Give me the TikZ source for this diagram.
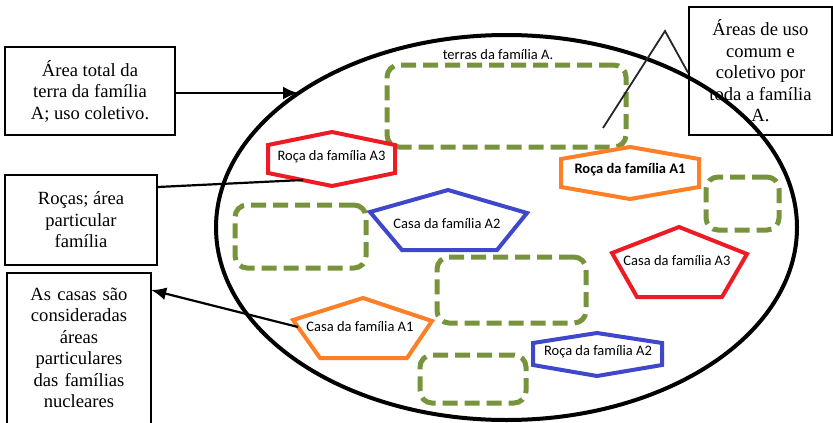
\documentclass[tikz,border=0pt]{standalone}
\usepackage{fontspec}
\setmainfont{Liberation Serif}
\newfontfamily\timesfont{Liberation Serif}
\newfontfamily\calibri{Carlito}
\usetikzlibrary{arrows.meta,shapes.geometric}
\definecolor{olivegreen}{HTML}{77933C}
\definecolor{pred}{HTML}{ED1C24}
\definecolor{porange}{HTML}{FF7F27}
\definecolor{pblue}{HTML}{3F48CC}
\definecolor{calloutgray}{HTML}{262626}
\begin{document}
\begin{tikzpicture}[x=1pt,y=-1pt,
  note/.style={font=\timesfont\fontsize{18.6}{21.5}\selectfont, align=center, inner sep=0pt},
  frame/.style={draw=black, line width=1.6pt},
  lbl/.style={font=\calibri\fontsize{14.5}{16}\selectfont, inner sep=0pt, text=black},
  commonarea/.style={draw=olivegreen, line width=5pt, dash pattern=on 15pt off 7pt, rounded corners=12pt, inner sep=0pt},
  plot/.style={line width=4pt, line join=miter},
  lead/.style={draw=black, line width=2.2pt},
  tip/.style={-{Latex[length=15pt,width=13pt]}},
  callout/.style={draw=calloutgray, line width=1.8pt, line join=miter}
]
\useasboundingbox (0,0) rectangle (833,423);
\clip (0,0) rectangle (833,423);

% the land (ellipse)
\node[draw=black, ellipse, line width=4pt, minimum width=581, minimum height=385, inner sep=0pt] (land) at (506.5,227.5) {};
\node[lbl] (landlabel) at (498,55) {terras da família A.};

% common-use areas
\node[commonarea, minimum width=239, minimum height=82] (c1) at (506.5,106) {};
\node[commonarea, minimum width=131, minimum height=63] (c2) at (300.5,236.5) {};
\node[commonarea, minimum width=149, minimum height=66] (c3) at (511.5,290) {};
\node[commonarea, minimum width=106, minimum height=48] (c4) at (473,379) {};
\node[commonarea, minimum width=73, minimum height=53] (c5) at (742.5,203.5) {};

% rocas (hexagons)
\draw[plot, draw=pred] (268,145) -- (332,132) -- (395,145) -- (395,173) -- (332,186) -- (268,173) -- cycle;
\node[lbl] (r3) at (331.5,157) {Roça da família A3};
\draw[plot, draw=porange] (561,159) -- (630,147) -- (699,159) -- (699,187) -- (630,199) -- (561,187) -- cycle;
\node[lbl, font=\calibri\bfseries\fontsize{14.5}{16}\selectfont] (r1) at (630,170) {Roça da família A1};
\draw[plot, draw=pblue] (533,343) -- (597,333) -- (662,343) -- (662,365) -- (597,376) -- (533,365) -- cycle;
\node[lbl] (r2) at (598,352) {Roça da família A2};

% casas (pentagons)
\draw[plot, draw=pblue] (448,190) -- (527,213) -- (497,250) -- (402,250) -- (370,212) -- cycle;
\node[lbl] (k2) at (447,224) {Casa da família A2};
\draw[plot, draw=pred] (679,227) -- (747,254) -- (722,297) -- (637,297) -- (612,253) -- cycle;
\node[lbl] (k3) at (677,261) {Casa da família A3};
\draw[plot, draw=porange] (363,298) -- (432,321) -- (407,358) -- (320,358) -- (293,320) -- cycle;
\node[lbl] (k1) at (360,327) {Casa da família A1};

% text boxes
\node[note, frame, minimum width=170, minimum height=88] (box1) at (90,91) {Área total da\\terra da família\\A; uso coletivo.};
\node[note, frame, minimum width=143, minimum height=128] (box2) at (760.5,71) {Áreas de uso\\comum e\\coletivo por\\toda a família\\A.};
\node[note, frame, minimum width=152, minimum height=90] (box3) at (81,220) {Roças; área\\particular\\família};
\node[note, minimum width=144, text width=140] (box4) at (79,348) {As casas são\\consideradas\\áreas\\particulares\\das famílias\\nucleares};
\draw[frame] (box4.west |- 0,440) -- (box4.west |- 0,273) -- (box4.east |- 0,273) -- (box4.east |- 0,440);

% connectors
\coordinate (landA) at (298,93);
\draw[lead, tip] (box1.east |- landA) -- (landA);
\coordinate (rocafoot) at (303,180);
\draw[lead] (box3.east |- 0,187) -- (rocafoot);
\coordinate (casaA1left) at (298,327);
\draw[lead, tip] (casaA1left) -- (box4.east |- 0,290);
\coordinate (calltip) at (603,128);
\coordinate (callapex) at (665,31);
\draw[callout] (calltip) -- (callapex) -- (box2.west |- 0,73);
\end{tikzpicture}
\end{document}
